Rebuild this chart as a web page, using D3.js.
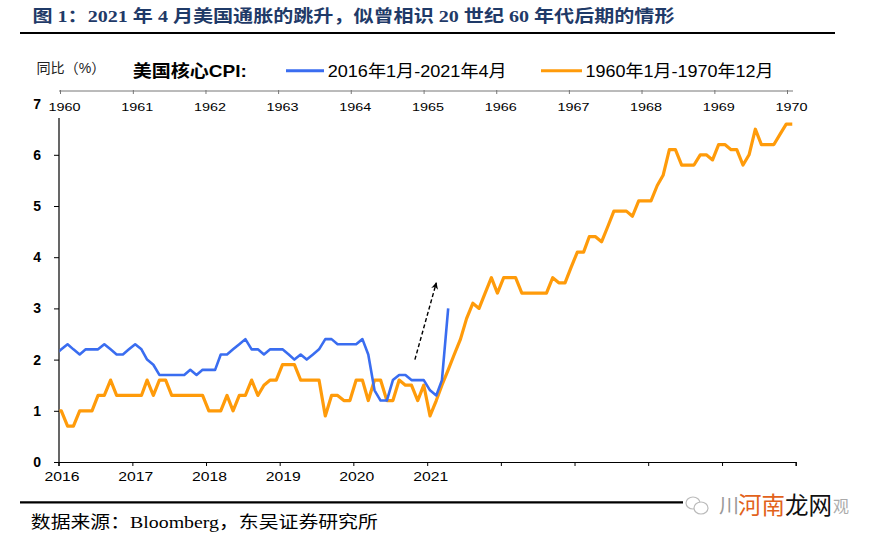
<!DOCTYPE html>
<html><head><meta charset="utf-8">
<script src="https://cdn.jsdelivr.net/npm/d3@7"></script>
<style>body{margin:0;background:#fff}</style>
</head><body>
<svg id="c" width="874" height="543" xmlns="http://www.w3.org/2000/svg"></svg>
<script>
// ---------------- data ----------------
// US core CPI YoY (%), monthly. First value is the month before the window start (clipped by the axis).
const blueStart = [2015, 11];   // Dec 2015
const blueValues = [2.1,
  2.2,2.3,2.2,2.1,2.2,2.2,2.2,2.3,2.2,2.1,2.1,2.2,
  2.3,2.2,2.0,1.9,1.7,1.7,1.7,1.7,1.7,1.8,1.7,1.8,
  1.8,1.8,2.1,2.1,2.2,2.3,2.4,2.2,2.2,2.1,2.2,2.2,
  2.2,2.1,2.0,2.1,2.0,2.1,2.2,2.4,2.4,2.3,2.3,2.3,
  2.3,2.4,2.1,1.4,1.2,1.2,1.6,1.7,1.7,1.6,1.6,1.6,
  1.4,1.3,1.6,3.0];
const orangeStart = [1959, 11]; // Dec 1959
const orangeValues = [1.0,
  1.0,0.7,0.7,1.0,1.0,1.0,1.3,1.3,1.6,1.3,1.3,1.3,
  1.3,1.3,1.6,1.3,1.6,1.6,1.3,1.3,1.3,1.3,1.3,1.3,
  1.0,1.0,1.0,1.3,1.0,1.3,1.3,1.6,1.3,1.5,1.6,1.6,
  1.9,1.9,1.9,1.6,1.6,1.6,1.6,0.9,1.3,1.3,1.2,1.2,
  1.6,1.6,1.2,1.6,1.6,1.2,1.2,1.6,1.5,1.5,1.2,1.5,
  0.9,1.2,1.5,1.8,2.1,2.4,2.8,3.1,3.0,3.3,3.6,3.3,
  3.6,3.6,3.6,3.3,3.3,3.3,3.3,3.3,3.6,3.5,3.5,3.8,
  4.1,4.1,4.4,4.4,4.3,4.6,4.9,4.9,4.9,4.8,5.1,5.1,
  5.1,5.4,5.6,6.1,6.1,5.8,5.8,5.8,6.0,6.0,5.9,6.2,
  6.2,6.1,6.1,5.8,6.0,6.5,6.2,6.2,6.2,6.4,6.6,6.6];
const bottomYears = [2016,2017,2018,2019,2020,2021,2022,2023,2024,2025,2026];
const bottomLabelYears = [2016,2017,2018,2019,2020,2021];
const topYears = [1960,1961,1962,1963,1964,1965,1966,1967,1968,1969,1970];
const yTicks = [0,1,2,3,4,5,6,7];
const titleText = "图 1：2021 年 4 月美国通胀的跳升，似曾相识 20 世纪 60 年代后期的情形";
const sourceText = "数据来源：Bloomberg，东吴证券研究所";
const unitText = "同比（%）";
const legendTitle = "美国核心CPI:";
const seriesNames = ["2016年1月-2021年4月", "1960年1月-1970年12月"];
const arrowFrom = {date: "2020-11-01", value: 2.0};
const arrowTo   = {date: "2021-02-15", value: 3.5};

// ---------------- drawing ----------------
const svg = d3.select("#c");
const BLUE = "#3a6df0", ORANGE = "#ff9b0a";
const sans = "Arial, 'Liberation Sans', 'Noto Sans CJK SC', sans-serif";
const serif = "'Liberation Serif', 'Times New Roman', 'Noto Sans CJK SC', serif";

const y = d3.scaleLinear().domain([0, 7]).range([462, 103.6]);
const xBottom = d3.scaleTime().domain([new Date(2016,0,1), new Date(2026,0,1)]).range([58.5, 795.7]);
const xOrange = d3.scaleTime().domain([new Date(1960,0,1), new Date(1970,0,1)]).range([58.5, 795.7]);
const xTop = d3.scaleTime().domain([new Date(1960,0,1), new Date(1970,0,1)]).range([60, 787]);

const monthDate = (start, i) => new Date(start[0], start[1] + i, 15);

// title
svg.append("text").attr("x", 32.5).attr("y", 21.5)
  .attr("font-family", serif).attr("font-weight", "bold").attr("font-size", 17.5)
  .attr("fill", "#1f3a68").attr("textLength", 642).attr("lengthAdjust", "spacingAndGlyphs")
  .text(titleText);
svg.append("line").attr("x1", 20).attr("x2", 835).attr("y1", 33).attr("y2", 33)
  .attr("stroke", "#000").attr("stroke-width", 2.2);

// legend
svg.append("text").attr("x", 36.4).attr("y", 73).attr("font-family", sans).attr("font-size", 14)
  .attr("fill", "#222").attr("textLength", 69).attr("lengthAdjust", "spacingAndGlyphs").text(unitText);
svg.append("text").attr("x", 132.8).attr("y", 77).attr("font-family", sans).attr("font-size", 17)
  .attr("font-weight", "bold").attr("fill", "#000").attr("textLength", 114).attr("lengthAdjust", "spacingAndGlyphs").text(legendTitle);
const legendItems = [
  {name: seriesNames[0], color: BLUE, x1: 286, x2: 324, tx: 327.7, tw: 179},
  {name: seriesNames[1], color: ORANGE, x1: 541, x2: 582, tx: 585.4, tw: 188}
];
legendItems.forEach(d => {
  svg.append("line").attr("x1", d.x1).attr("x2", d.x2).attr("y1", 70.7).attr("y2", 70.7)
    .attr("stroke", d.color).attr("stroke-width", 3);
  svg.append("text").attr("x", d.tx).attr("y", 77).attr("font-family", sans).attr("font-size", 17)
    .attr("fill", "#000").attr("textLength", d.tw).attr("lengthAdjust", "spacingAndGlyphs").text(d.name);
});

// top axis (1960s)
const gTop = svg.append("g").attr("transform", "translate(0,91)")
  .call(d3.axisBottom(xTop).tickValues(topYears.map(v => new Date(v,0,1)))
    .tickSize(3).tickPadding(9).tickFormat(d3.timeFormat("%Y")));
gTop.select(".domain").remove();
gTop.selectAll(".tick line").attr("y1", -1).attr("stroke", "#777");
gTop.selectAll(".tick text").attr("font-family", sans).attr("font-size", 11.6).attr("fill", "#000")
  .attr("dx", 4).attr("textLength", 32).attr("lengthAdjust", "spacingAndGlyphs");
svg.append("line").attr("x1", 59).attr("x2", 793).attr("y1", 91).attr("y2", 91)
  .attr("stroke", "#777").attr("stroke-width", 1);

// left axis
const gLeft = svg.append("g").attr("transform", "translate(59,0)")
  .call(d3.axisLeft(y).tickValues(yTicks).tickSize(5).tickPadding(13).tickFormat(d3.format("d")));
gLeft.select(".domain").remove();
gLeft.selectAll(".tick line").attr("stroke", "#000").attr("display", d => d === 7 ? "none" : null);
gLeft.selectAll(".tick text").attr("font-family", sans).attr("font-size", 14).attr("font-weight", "bold").attr("fill", "#000");
svg.append("line").attr("x1", 59).attr("x2", 59).attr("y1", 118).attr("y2", 462.5)
  .attr("stroke", "#000").attr("stroke-width", 1.2);

// bottom axis (2016+)
const gBottom = svg.append("g").attr("transform", "translate(0,462)")
  .call(d3.axisBottom(xBottom).tickValues(bottomYears.map(v => new Date(v,0,1)))
    .tickSize(4).tickPadding(6)
    .tickFormat(d => bottomLabelYears.includes(d.getFullYear()) ? d.getFullYear() : ""));
gBottom.select(".domain").attr("stroke", "#000").attr("stroke-width", 1.2);
gBottom.selectAll(".tick line").attr("stroke", "#000");
gBottom.selectAll(".tick text").attr("font-family", sans).attr("font-size", 13).attr("fill", "#000")
  .attr("dx", 3).attr("textLength", d => bottomLabelYears.includes(d.getFullYear()) ? 35 : null)
  .attr("lengthAdjust", "spacingAndGlyphs");

// clip for the series
svg.append("clipPath").attr("id", "plotClip").append("rect")
  .attr("x", 59.5).attr("y", 80).attr("width", 760).attr("height", 400);

const gLines = svg.append("g").attr("clip-path", "url(#plotClip)");
const orangeLine = d3.line().x((v, i) => xOrange(monthDate(orangeStart, i))).y(v => y(v));
const blueLine = d3.line().x((v, i) => xBottom(monthDate(blueStart, i))).y(v => y(v));
gLines.append("path").attr("d", orangeLine(orangeValues)).attr("fill", "none")
  .attr("stroke", ORANGE).attr("stroke-width", 3.2).attr("stroke-linejoin", "round");
gLines.append("path").attr("d", blueLine(blueValues)).attr("fill", "none")
  .attr("stroke", BLUE).attr("stroke-width", 2.6).attr("stroke-linejoin", "round");

// dashed arrow
const defs = svg.append("defs");
defs.append("marker").attr("id", "arrowHead").attr("viewBox", "0 0 10 10").attr("refX", 9).attr("refY", 5)
  .attr("markerWidth", 7).attr("markerHeight", 7).attr("markerUnits", "userSpaceOnUse").attr("orient", "auto")
  .append("path").attr("d", "M0,0 L10,5 L0,10 L3,5 Z").attr("fill", "#000");
const pd = d3.timeParse("%Y-%m-%d");
svg.append("line")
  .attr("x1", xBottom(pd(arrowFrom.date))).attr("y1", y(arrowFrom.value))
  .attr("x2", xBottom(pd(arrowTo.date))).attr("y2", y(arrowTo.value))
  .attr("stroke", "#000").attr("stroke-width", 1.4).attr("stroke-dasharray", "4,2.5")
  .attr("marker-end", "url(#arrowHead)");

// bottom rule + source
svg.append("line").attr("x1", 20).attr("x2", 835).attr("y1", 502.3).attr("y2", 502.3)
  .attr("stroke", "#000").attr("stroke-width", 2.2);
svg.append("text").attr("x", 30.8).attr("y", 527.5).attr("font-family", serif).attr("font-size", 16.5)
  .attr("fill", "#000").attr("textLength", 347).attr("lengthAdjust", "spacingAndGlyphs").text(sourceText);

// watermark
const wm = svg.append("g");
wm.append("rect").attr("x", 683).attr("y", 490).attr("width", 170).attr("height", 30).attr("fill", "#fff");
wm.append("ellipse").attr("cx", 693).attr("cy", 503).attr("rx", 7).attr("ry", 6)
  .attr("fill", "none").attr("stroke", "#bbb").attr("stroke-width", 1.2);
wm.append("ellipse").attr("cx", 701).attr("cy", 508).attr("rx", 7).attr("ry", 6)
  .attr("fill", "#fff").attr("stroke", "#bbb").attr("stroke-width", 1.2);
wm.append("text").attr("x", 719).attr("y", 513).attr("font-family", sans).attr("font-size", 20)
  .attr("fill", "#999").text("川");
wm.append("text").attr("x", 738).attr("y", 514).attr("font-family", sans).attr("font-size", 23.5)
  .attr("fill", "#e2621b").text("河南");
wm.append("text").attr("x", 785).attr("y", 514).attr("font-family", sans).attr("font-size", 23.5)
  .attr("fill", "#111").text("龙网");
wm.append("text").attr("x", 833).attr("y", 512).attr("font-family", sans).attr("font-size", 16)
  .attr("fill", "#aaa").text("观");
</script>
</body></html>
